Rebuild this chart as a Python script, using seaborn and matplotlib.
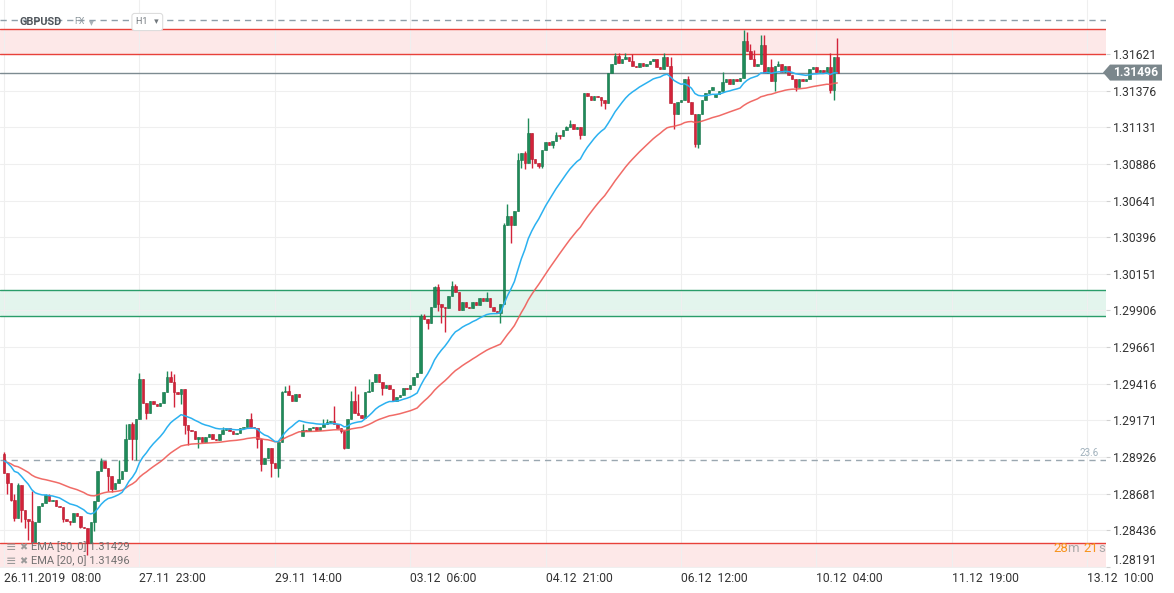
import numpy as np
import pandas as pd
import matplotlib
matplotlib.use("Agg")
import matplotlib.pyplot as plt
import seaborn as sns
from matplotlib.patches import Polygon
from matplotlib.transforms import IdentityTransform

# GBPUSD H1 closes, one per hourly bar
closes = [
    1.2882, 1.2875, 1.2864, 1.2852, 1.2874, 1.2857, 1.2851, 1.2850, 1.2836, 1.2849,
    1.2860, 1.2862, 1.2867, 1.2863, 1.2864, 1.2860, 1.2859, 1.2851, 1.2850, 1.2849,
    1.2855, 1.2853, 1.2846, 1.2845, 1.2835, 1.2849, 1.2863, 1.2883, 1.2890, 1.2885,
    1.2880, 1.2871, 1.2875, 1.2878, 1.2883, 1.2905, 1.2915, 1.2905, 1.2918, 1.2945,
    1.2929, 1.2922, 1.2930, 1.2928, 1.2927, 1.2929, 1.2936, 1.2946, 1.2943, 1.2936,
    1.2935, 1.2938, 1.2914, 1.2911, 1.2910, 1.2905, 1.2906, 1.2903, 1.2906, 1.2908,
    1.2905, 1.2904, 1.2908, 1.2911, 1.2912, 1.2910, 1.2908, 1.2909, 1.2912, 1.2913,
    1.2918, 1.2913, 1.2912, 1.2905, 1.2888, 1.2892, 1.2899, 1.2889, 1.2885, 1.2903,
    1.2936, 1.2937, 1.2934, 1.2930, 1.2935, 1.2933, 1.2911, 1.2910, 1.2912, 1.2913,
    1.2911, 1.2913, 1.2915, 1.2916, 1.2917, 1.2915, 1.2912, 1.2910, 1.2899, 1.2918,
    1.2930, 1.2922, 1.2921, 1.2919, 1.2936, 1.2937, 1.2943, 1.2948, 1.2943, 1.2939,
    1.2941, 1.2938, 1.2930, 1.2933, 1.2934, 1.2939, 1.2938, 1.2941, 1.2946, 1.2949,
    1.2987, 1.2985, 1.2982, 1.2993, 1.3006, 1.2995, 1.2993, 1.2992, 1.3000, 1.3007,
    1.3003, 1.2991, 1.2996, 1.2993, 1.2992, 1.2996, 1.2994, 1.2999, 1.2997, 1.2999,
    1.2993, 1.2990, 1.2989, 1.2995, 1.3048, 1.3054, 1.3048, 1.3057, 1.3091, 1.3096,
    1.3089, 1.3109, 1.3092, 1.3089, 1.3087, 1.3098, 1.3103, 1.3101, 1.3104, 1.3108,
    1.3107, 1.3111, 1.3113, 1.3115, 1.3112, 1.3113, 1.3108, 1.3136, 1.3134, 1.3131,
    1.3134, 1.3133, 1.3131, 1.3129, 1.3149, 1.3155, 1.3161, 1.3156, 1.3159, 1.3160,
    1.3157, 1.3154, 1.3153, 1.3156, 1.3154, 1.3155, 1.3157, 1.3159, 1.3153, 1.3152,
    1.3160, 1.3154, 1.3129, 1.3122, 1.3130, 1.3131, 1.3145, 1.3130, 1.3122, 1.3102,
    1.3122, 1.3131, 1.3136, 1.3138, 1.3140, 1.3135, 1.3137, 1.3143, 1.3145, 1.3142,
    1.3145, 1.3144, 1.3146, 1.3171, 1.3164, 1.3159, 1.3154, 1.3155, 1.3168, 1.3149,
    1.3153, 1.3144, 1.3154, 1.3155, 1.3150, 1.3154, 1.3148, 1.3145, 1.3140, 1.3145,
    1.3144, 1.3145, 1.3152, 1.3153, 1.3150, 1.3151, 1.3149, 1.3153, 1.3138, 1.3160,
    1.31496,
]
first_open = 1.2895
gap_opens = {86: 1.2907, 205: 1.3133}   # monday opens after the weekend gaps

# wick extremes where they stick out of the body
wick_high = {
    0: 1.2896, 3: 1.2868, 4: 1.2875, 8: 1.2870, 12: 1.2868, 13: 1.2868, 28: 1.2892,
    33: 1.2891, 35: 1.2915, 37: 1.2916, 39: 1.2949, 47: 1.2950, 48: 1.2950, 49: 1.2948,
    63: 1.2913, 71: 1.2922, 80: 1.2937, 81: 1.2940, 82: 1.2941, 86: 1.2915, 92: 1.2918,
    93: 1.2918, 95: 1.2927, 100: 1.2937, 101: 1.2940, 102: 1.2935, 105: 1.2945,
    108: 1.2948, 120: 1.2988, 121: 1.2988, 124: 1.3007, 125: 1.3008, 129: 1.3010,
    130: 1.3008, 139: 1.3003, 144: 1.3049, 145: 1.3062, 148: 1.3096, 150: 1.3097,
    151: 1.3119, 159: 1.3110, 162: 1.3114, 163: 1.3118, 176: 1.3163, 177: 1.3163,
    179: 1.3163, 181: 1.3162, 190: 1.3163, 192: 1.3160, 197: 1.3147, 207: 1.3150,
    213: 1.3178, 214: 1.3177, 215: 1.3169, 216: 1.3165, 218: 1.3175, 219: 1.3175,
    221: 1.3159, 223: 1.3157, 238: 1.3163, 240: 1.3173,
}
wick_low = {
    1: 1.2868, 2: 1.2863, 3: 1.2850, 5: 1.2849, 6: 1.2845, 7: 1.2837, 8: 1.2835,
    17: 1.2849, 19: 1.2847, 22: 1.2845, 24: 1.2827, 26: 1.2843, 30: 1.2870, 31: 1.2869,
    37: 1.2891, 38: 1.2891, 41: 1.2918, 49: 1.2926, 51: 1.2928, 52: 1.2908, 53: 1.2901,
    56: 1.2899, 73: 1.2899, 74: 1.2883, 77: 1.2879, 79: 1.2879, 97: 1.2909, 98: 1.2898,
    109: 1.2934, 122: 1.2978, 125: 1.2990, 126: 1.2982, 127: 1.2976, 143: 1.2982,
    146: 1.3036, 149: 1.3086, 150: 1.3085, 152: 1.3086, 154: 1.3086, 155: 1.3086,
    158: 1.3099, 160: 1.3105, 166: 1.3105, 172: 1.3127, 173: 1.3125, 193: 1.3112,
    199: 1.3100, 200: 1.3099, 222: 1.3137, 228: 1.3137, 238: 1.3136, 239: 1.3131,
}

# EMA values at the left edge of the chart
ema20_start = 1.2891
ema50_start = 1.2890

price_ticks = [1.28191, 1.28436, 1.28681, 1.28926, 1.29171, 1.29416, 1.29661, 1.29906,
               1.30151, 1.30396, 1.30641, 1.30886, 1.31131, 1.31376, 1.31621]
date_ticks = [0, 39, 78, 117, 156, 195, 234, 273, 312]
date_labels = ["26.11.2019  08:00", "27.11  23:00", "29.11  14:00", "03.12  06:00",
               "04.12  21:00", "06.12  12:00", "10.12  04:00", "11.12  19:00",
               "13.12  10:00"]

resistance_zone = (1.31621, 1.31788)
support_zone = (1.29868, 1.30041)
lower_level = 1.28354
top_dashed = 1.31844
fib_level = 1.28904
last_price = 1.31496

# ---- build candles
df = pd.DataFrame({"close": closes})
df["bar"] = np.arange(len(df))
df["open"] = [first_open] + closes[:-1]
for b, v in gap_opens.items():
    df.loc[b, "open"] = v
df["high"] = df[["open", "close"]].max(axis=1)
df["low"] = df[["open", "close"]].min(axis=1)
for b, v in wick_high.items():
    df.loc[b, "high"] = max(v, df.loc[b, "high"])
for b, v in wick_low.items():
    df.loc[b, "low"] = min(v, df.loc[b, "low"])


def ema(values, span, start):
    a = 2 / (span + 1)
    out, prev = [], start
    for v in values:
        prev = a * v + (1 - a) * prev
        out.append(prev)
    return out


df["ema20"] = ema(df["close"], 20, ema20_start)
df["ema50"] = ema(df["close"], 50, ema50_start)

sns.set_style("white")
plt.rcParams["font.family"] = ["Roboto", "DejaVu Sans"]

GREEN = "#1f8b5a"
RED = "#d3233a"

fig = plt.figure(figsize=(11.74, 5.93), dpi=100)
ax = fig.add_axes([0, 25 / 593, 1106 / 1174, 568 / 593])
ax.set_xlim(-1.15, 317.4)
ax.set_ylim(1.28185, 1.31981)

# zones and levels
ax.axhspan(*resistance_zone, color="#fde8e8", lw=0, zorder=0)
for v in resistance_zone:
    ax.axhline(v, color="#e8413a", lw=1, zorder=1)
ax.axhspan(1.28185, lower_level, color="#fde8e8", lw=0, zorder=0)
ax.axhline(lower_level, color="#e8413a", lw=1, zorder=1)
ax.axhspan(*support_zone, color="#e3f5ed", lw=0, zorder=0)
for v in support_zone:
    ax.axhline(v, color="#2a9d6a", lw=1, zorder=1)
ax.axhline(top_dashed, color="#8d9ea9", lw=1, ls=(0, (4.5, 3.5)), zorder=1)
ax.axhline(fib_level, color="#9aa7b0", lw=1, ls=(0, (4.5, 3.5)), zorder=1)
ax.axhline(last_price, color="#7d8b91", lw=1, zorder=2)

# candles
up = df["close"] >= df["open"]
cols = np.where(up, GREEN, RED)
edges = np.where(up, "#17744a", "#b51b2e")
body = (df["close"] - df["open"]).abs().clip(lower=0.00003)
ax.vlines(df["bar"], df["low"], df["high"], colors=cols, lw=1, zorder=3)
ax.bar(df["bar"], body, bottom=df[["open", "close"]].min(axis=1), width=0.72,
       color=cols, edgecolor=edges, lw=0.4, zorder=4)

# moving averages
sns.lineplot(data=df, x="bar", y="ema50", color="#ef5b56", lw=1.1, alpha=0.9, ax=ax, zorder=5)
sns.lineplot(data=df, x="bar", y="ema20", color="#2bb1f0", lw=1.1, ax=ax, zorder=5)

# axes styling
for s in ax.spines.values():
    s.set_visible(False)
ax.set_xlabel("")
ax.set_ylabel("")
ax.yaxis.tick_right()
ax.set_yticks(price_ticks)
ax.set_yticklabels([f"{p:.5f}" for p in price_ticks])
ax.tick_params(axis="y", length=3, color="#cfcfcf", pad=2, labelsize=8.7, labelcolor="#333333")
ax.get_yticklabels()[0].set_verticalalignment("bottom")
ax.set_xticks(date_ticks)
ax.set_xticklabels(date_labels, ha="left")
ax.tick_params(axis="x", length=0, pad=3, labelsize=8.7, labelcolor="#333333")
ax.grid(True, color="#efefef", lw=0.8, zorder=0)
ax.set_axisbelow(True)

# header
hy = 1 - 22 / 593
fig.text(20 / 1174, hy, "GBPUSD", fontsize=7.8, weight="bold", color="#50565c", va="center", zorder=10)
fig.text(74 / 1174, hy, "FX", fontsize=6.3, color="#8f999f", va="center", zorder=10)
fig.text(89 / 1174, hy, "▾", fontsize=7, color="#a9b1b6", va="center", zorder=10)
fig.text(136 / 1174, hy, "H1   ▾", fontsize=6.5, color="#70777c", va="center", zorder=10,
         bbox=dict(boxstyle="round,pad=0.45,rounding_size=0.3", fc="white", ec="#dddddd", lw=0.8))

# indicator legend, bottom left
for ypix, txt in [(547, "EMA [50, 0] 1.31429"), (561, "EMA [20, 0] 1.31496")]:
    fy = 1 - ypix / 593
    fig.text(6 / 1174, fy, "≡", fontsize=9, color="#9a9a9a", va="center", zorder=10)
    fig.text(19 / 1174, fy, "✖", fontsize=7, color="#9a9a9a", va="center", zorder=10)
    fig.text(31 / 1174, fy, txt, fontsize=8, color="#707070", va="center", zorder=10)

# fib label
fig.text(1099 / 1174, 1 - 453 / 593, "23.6", ha="right", va="center", fontsize=7,
         color="#9fb0bb", zorder=10)

# candle countdown, laid out right to left
renderer = fig.canvas.get_renderer()
tx, ty = 1105, 593 - 548
for part, colour in [("s", "#a8a8a8"), ("21", "#f7941d"), ("m ", "#a8a8a8"), ("28", "#f7941d")]:
    t = fig.text(tx, ty, part, transform=IdentityTransform(), ha="right", va="center",
                 fontsize=9.5, color=colour, zorder=12)
    tx -= t.get_window_extent(renderer).width

# current price tag
yd = ax.transData.transform((0, last_price))[1]
tag = Polygon([(1103, yd), (1110, yd + 8), (1162, yd + 8), (1162, yd - 8), (1110, yd - 8)],
              closed=True, fc="#7b878c", ec="none", transform=IdentityTransform(), zorder=10)
fig.add_artist(tag)
fig.text(1136, yd, f"{last_price:.5f}", transform=IdentityTransform(), ha="center",
         va="center", color="white", weight="bold", fontsize=8.7, zorder=11)

fig.savefig("out.png", dpi=100)
